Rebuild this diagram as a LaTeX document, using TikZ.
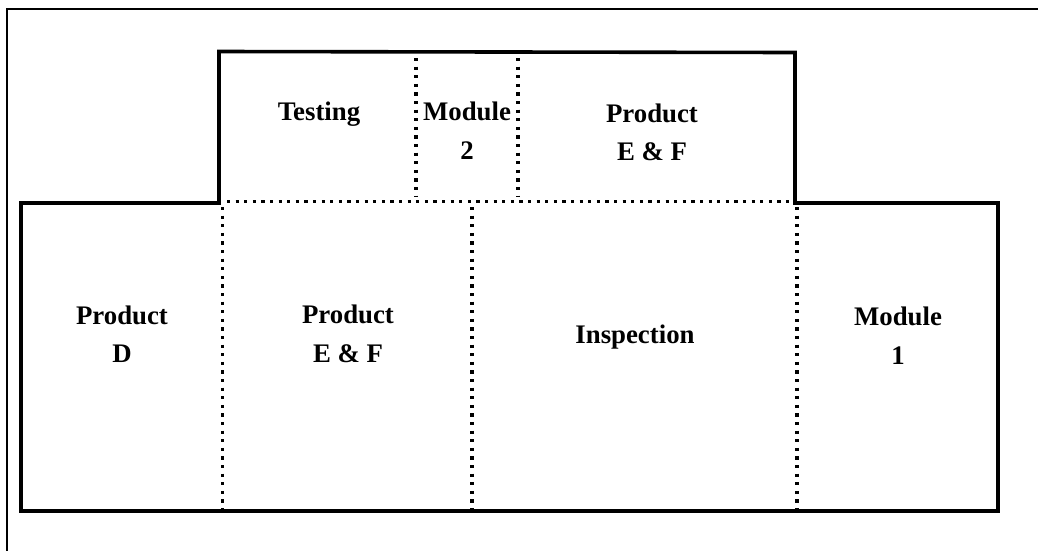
\documentclass[tikz,border=0pt]{standalone}
\usepackage{fontspec}
\setmainfont{Liberation Serif}
\begin{document}
\begin{tikzpicture}[x=1pt,y=-1pt,
  wall/.style={line width=3.6pt, line join=miter},
  frame/.style={line width=2pt},
  partition/.style={line width=3.2pt, dash pattern=on 3.2pt off 5.4pt, line cap=butt},
  zone/.style={font=\fontsize{26.8}{38.5}\selectfont\bfseries, align=center, inner sep=0pt}]
\useasboundingbox (0,0) rectangle (1038,550);

% page frame (left and top edges)
\coordinate (fbl) at (6.5,560);
\coordinate (ftl) at (6.5,9);
\coordinate (ftr) at (1045,9);
\draw[frame] (fbl) -- (ftl) -- (ftr);

% outline of the floor plan
\coordinate (lbl) at (21,511);
\coordinate (ltl) at (21,203);
\coordinate (ubl) at (219,203);
\coordinate (utl) at (219,51.5);
\coordinate (utr) at (795,52.5);
\coordinate (ubr) at (795,203);
\coordinate (ltr) at (998,203);
\coordinate (lbr) at (998,511);
\draw[wall] (lbl) -- (ltl) -- (ubl) -- (utl) -- (utr) -- (ubr) -- (ltr) -- (lbr) -- cycle;

% dotted partitions
\coordinate (hA) at (227,201.5);
\coordinate (hB) at (792,201.5);
\draw[partition] (hA) -- (hB);

\coordinate (u1t) at (416,58);
\coordinate (u1b) at (416,196);
\coordinate (u2t) at (518,58);
\coordinate (u2b) at (518,196);
\draw[partition] (u1t) -- (u1b);
\draw[partition] (u2t) -- (u2b);

\coordinate (l1t) at (222.5,207);
\coordinate (l1b) at (222.5,509);
\coordinate (l2t) at (472,207);
\coordinate (l2b) at (472,509);
\coordinate (l3t) at (797,207);
\coordinate (l3b) at (797,509);
\draw[partition] (l1t) -- (l1b);
\draw[partition] (l2t) -- (l2b);
\draw[partition] (l3t) -- (l3b);

% zone labels
\node[zone, anchor=base] (testing) at (319,120) {Testing};
\node[zone] (mod2) at (467,130.5) {Module\\2};
\node[zone] (prodEFup) at (652,132.5) {Product\\E \& F};
\node[zone] (prodD) at (122,334) {Product\\D};
\node[zone] (prodEFlo) at (348,334) {Product\\E \& F};
\node[zone, anchor=base] (insp) at (635,343) {Inspection};
\node[zone] (mod1) at (898,335.5) {Module\\1};
\end{tikzpicture}
\end{document}
